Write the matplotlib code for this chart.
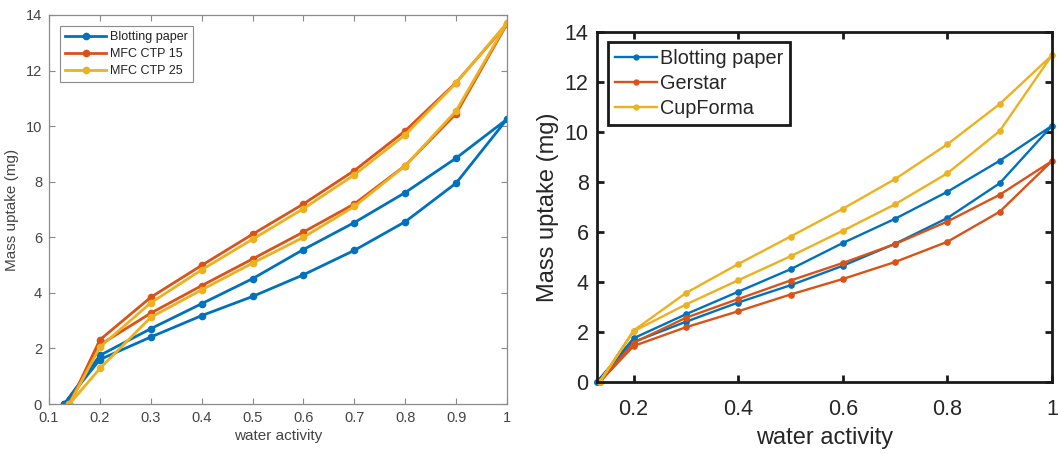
import matplotlib
matplotlib.use("Agg")
import matplotlib.pyplot as plt
import numpy as np

plt.rcParams['font.family'] = ['Liberation Sans', 'DejaVu Sans']

# Water activity steps (sorption then desorption)
aw = [0.2, 0.3, 0.4, 0.5, 0.6, 0.7, 0.8, 0.9, 1.0]

# Blotting paper
bp_start = 0.13
bp_sorp = [1.60, 2.41, 3.18, 3.87, 4.65, 5.53, 6.56, 7.95, 10.25]
bp_desorp = [1.75, 2.71, 3.61, 4.51, 5.56, 6.53, 7.61, 8.85, 10.25]

# MFC CTP 15
ctp15_start = 0.14
ctp15_sorp = [2.13, 3.27, 4.26, 5.22, 6.19, 7.20, 8.58, 10.45, 13.68]
ctp15_desorp = [2.31, 3.84, 4.99, 6.11, 7.20, 8.40, 9.83, 11.57, 13.68]

# MFC CTP 25
ctp25_start = 0.14
ctp25_sorp = [1.28, 3.12, 4.11, 5.07, 6.00, 7.11, 8.57, 10.55, 13.72]
ctp25_desorp = [2.05, 3.64, 4.83, 5.93, 7.03, 8.25, 9.69, 11.55, 13.72]

# Gerstar
ger_start = 0.135
ger_sorp = [1.44, 2.19, 2.83, 3.50, 4.12, 4.80, 5.61, 6.81, 8.84]
ger_desorp = [1.57, 2.57, 3.32, 4.06, 4.76, 5.52, 6.42, 7.49, 8.84]

# CupForma
cup_start = 0.135
cup_sorp = [2.03, 3.10, 4.07, 5.03, 6.05, 7.11, 8.35, 10.04, 13.07]
cup_desorp = [2.06, 3.56, 4.72, 5.82, 6.93, 8.12, 9.51, 11.12, 13.07]

left_labels = ['Blotting paper', 'MFC CTP 15', 'MFC CTP 25']
right_labels = ['Blotting paper', 'Gerstar', 'CupForma']

colors = ['#0072BD', '#D95319', '#EDB120']


def loop(start, sorp, desorp):
    xs = [start] + aw + aw[::-1][1:] + [start]
    ys = [0.0] + sorp + desorp[::-1][1:] + [0.0]
    return xs, ys


fig = plt.figure(figsize=(10.58, 4.54), dpi=100)

# ---- left panel ----
axl = fig.add_axes([49 / 1058, 50 / 454, 458 / 1058, 389 / 454])
left_series = [(bp_start, bp_sorp, bp_desorp),
               (ctp15_start, ctp15_sorp, ctp15_desorp),
               (ctp25_start, ctp25_sorp, ctp25_desorp)]
for (s, a, d), lab, c in zip(left_series, left_labels, colors):
    xs, ys = loop(s, a, d)
    axl.plot(xs, ys, '-o', color=c, lw=2.0, ms=4.5, label=lab)
axl.set_xlim(0.1, 1.0)
axl.set_ylim(0, 14)
axl.set_xticks(np.round(np.arange(0.1, 1.01, 0.1), 1))
axl.set_xticklabels(['0.1', '0.2', '0.3', '0.4', '0.5', '0.6', '0.7', '0.8', '0.9', '1'])
axl.set_yticks(range(0, 15, 2))
grey = '#8a8a8a'
txt = '#444444'
for sp in axl.spines.values():
    sp.set_color(grey)
    sp.set_linewidth(0.9)
axl.tick_params(direction='in', top=True, right=True, length=4, width=0.8,
                color=grey, labelcolor=txt, labelsize=10.5, pad=5)
axl.set_xlabel('water activity', fontsize=11, color=txt, labelpad=3)
axl.set_ylabel('Mass uptake (mg)', fontsize=11, color=txt, labelpad=5)
legl = axl.legend(loc='upper left', bbox_to_anchor=(0.024, 0.972), borderaxespad=0,
                  fontsize=9, handlelength=3.3, handletextpad=0.3, labelspacing=0.4,
                  borderpad=0.4, fancybox=False, framealpha=1, edgecolor=grey,
                  numpoints=1, labelcolor='#222222')
legl.get_frame().set_linewidth(0.8)

# ---- right panel ----
axr = fig.add_axes([597 / 1058, 72 / 454, 455 / 1058, 350 / 454])
right_series = [(bp_start, bp_sorp, bp_desorp),
                (ger_start, ger_sorp, ger_desorp),
                (cup_start, cup_sorp, cup_desorp)]
for (s, a, d), lab, c in zip(right_series, right_labels, colors):
    xs, ys = loop(s, a, d)
    axr.plot(xs, ys, '-o', color=c, lw=1.7, ms=3.8, label=lab, clip_on=False)
axr.set_xlim(0.13, 1.0)
axr.set_ylim(0, 14)
axr.set_xticks([0.2, 0.4, 0.6, 0.8, 1.0])
axr.set_xticklabels(['0.2', '0.4', '0.6', '0.8', '1'])
axr.set_yticks(range(0, 15, 2))
for sp in axr.spines.values():
    sp.set_color('#1a1a1a')
    sp.set_linewidth(2.0)
axr.tick_params(direction='in', top=True, right=True, length=5, width=2.0,
                color='#1a1a1a', labelcolor='#262626', labelsize=15.5)
axr.tick_params(axis='x', pad=12)
axr.tick_params(axis='y', pad=6)
axr.set_xlabel('water activity', fontsize=17, color='#262626', labelpad=5)
axr.set_ylabel('Mass uptake (mg)', fontsize=17, color='#262626', labelpad=4)
legr = axr.legend(loc='upper left', bbox_to_anchor=(0.024, 0.971), borderaxespad=0,
                  fontsize=14.3, handlelength=2.1, handletextpad=0.15, labelspacing=0.3,
                  borderpad=0.35, fancybox=False, framealpha=1, edgecolor='#1a1a1a',
                  numpoints=1, labelcolor='#262626')
legr.get_frame().set_linewidth(2.0)
for h in legr.legend_handles:
    h.set_markersize(3.5)

fig.savefig('out.png', dpi=100)
